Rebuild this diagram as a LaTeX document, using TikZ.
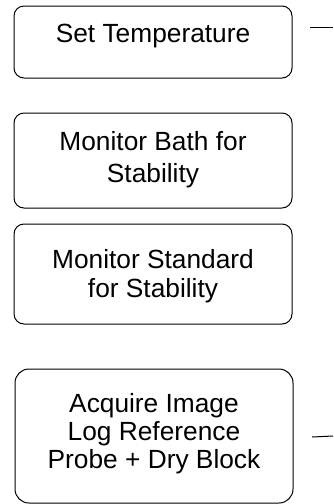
\documentclass[tikz,border=0pt]{standalone}
\usepackage{fontspec}
\setmainfont{Liberation Sans}
\begin{document}
\begin{tikzpicture}[x=1pt,y=-1pt,
  stepbox/.style={draw, line width=1pt, rounded corners=10pt, minimum width=278pt, inner sep=0pt},
  steptext/.style={align=center, anchor=base, inner sep=0pt},
  stub/.style={line width=1pt}]
\useasboundingbox (0,0) rectangle (333,504);
\node[stepbox, minimum height=72pt] (b1) at (153,42) {};
\node[steptext, font=\fontsize{26.3}{32}\selectfont] (t1) at (153,42) {Set Temperature};
\node[stepbox, minimum height=95pt] (b2) at (153,160.5) {};
\node[steptext, font=\fontsize{26.3}{32}\selectfont] (t2) at (153,182) {Monitor Bath for\\Stability};
\node[stepbox, minimum height=100pt] (b3) at (153,274) {};
\node[steptext, font=\fontsize{26.3}{29}\selectfont] (t3) at (153,297) {Monitor Standard\\for Stability};
\node[stepbox, minimum height=134pt, rounded corners=14pt] (b4) at (154,436) {};
\node[steptext, font=\fontsize{26.3}{28}\selectfont] (t4) at (154,468) {Acquire Image\\Log Reference\\Probe + Dry Block};
\coordinate (s1a) at (310,27);
\coordinate (s1b) at (333,27);
\coordinate (s2a) at (312,437);
\coordinate (s2b) at (333,436);
\draw[stub] (s1a) -- (s1b);
\draw[stub] (s2a) -- (s2b);
\end{tikzpicture}
\end{document}
